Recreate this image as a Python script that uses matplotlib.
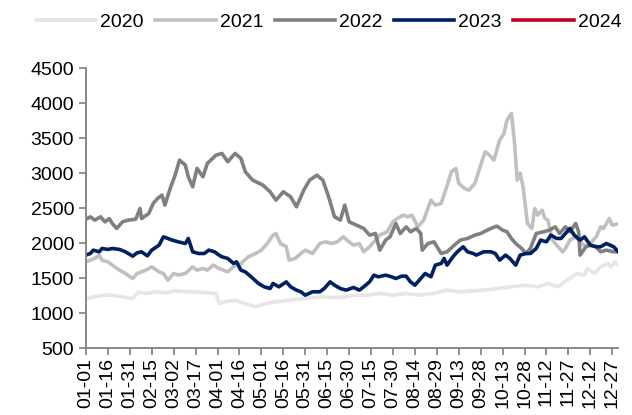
import matplotlib.pyplot as plt
import numpy as np

plt.rcParams["font.family"] = ["Liberation Sans", "DejaVu Sans"]

# day-of-year positions and values, one pair of lists per year
d2020 = [0, 5, 12, 18, 25, 32, 36, 41, 48, 55, 61, 68, 75, 82, 89, 91, 95, 102, 109, 116,
         123, 130, 139, 150, 160, 169, 178, 183, 192, 201, 210, 219, 228, 238, 247, 256, 265,
         272, 281, 291, 300, 309, 316, 323, 329, 336, 341, 343, 348, 352, 357, 359, 362, 365]
v2020 = [1200, 1233, 1257, 1257, 1233, 1210, 1305, 1281, 1305, 1290, 1319, 1305, 1305, 1290,
         1281, 1138, 1162, 1186, 1138, 1090, 1138, 1162, 1186, 1210, 1233, 1224, 1233, 1257,
         1257, 1281, 1257, 1281, 1257, 1281, 1329, 1305, 1319, 1329, 1352, 1376, 1400, 1376,
         1424, 1376, 1471, 1567, 1543, 1638, 1567, 1662, 1710, 1662, 1733, 1662]

d2021 = [0, 6, 9, 11, 15, 18, 23, 27, 32, 35, 41, 45, 50, 53, 56, 60, 63, 68, 73, 76, 80, 83,
         87, 91, 97, 102, 106, 111, 116, 120, 124, 128, 130, 133, 137, 139, 143, 147, 150, 155,
         160, 164, 168, 172, 176, 180, 183, 187, 190, 194, 198, 201, 206, 210, 213, 217, 220,
         223, 227, 231, 236, 239, 243, 246, 250, 253, 255, 259, 262, 266, 270, 273, 276, 279,
         283, 286, 288, 291, 293, 295, 297, 299, 302, 305, 307, 309, 312, 314, 316, 319, 323,
         326, 328, 331, 335, 338, 342, 345, 349, 352, 354, 358, 360, 365]
v2021 = [1733, 1781, 1829, 1757, 1733, 1686, 1614, 1567, 1495, 1567, 1614, 1662, 1590, 1567,
         1471, 1567, 1543, 1567, 1662, 1614, 1638, 1614, 1686, 1638, 1590, 1686, 1710, 1805,
         1852, 1900, 1995, 2114, 2138, 1995, 1948, 1757, 1781, 1852, 1900, 1852, 1995, 2019,
         1995, 2019, 2090, 2019, 1971, 1995, 1876, 1948, 2043, 2114, 2162, 2305, 2352, 2400,
         2376, 2400, 2233, 2329, 2614, 2543, 2567, 2757, 3019, 3067, 2852, 2781, 2757, 2852,
         3114, 3305, 3257, 3186, 3471, 3567, 3757, 3852, 3471, 2900, 3000, 2805, 2281, 2210,
         2495, 2400, 2471, 2352, 2329, 2043, 1948, 1876, 1924, 2043, 2090, 2019, 1948, 1995,
         2090, 2233, 2210, 2352, 2257, 2281]

d2022 = [0, 3, 6, 10, 13, 16, 18, 21, 25, 29, 34, 37, 38, 43, 46, 49, 52, 54, 58, 61, 64, 68,
         70, 73, 76, 80, 83, 89, 93, 97, 102, 106, 109, 114, 121, 126, 130, 135, 140, 144,
         149, 153, 158, 162, 166, 170, 174, 177, 180, 185, 190, 194, 198, 201, 205, 208, 212,
         215, 219, 222, 226, 229, 230, 234, 238, 243, 247, 252, 256, 261, 266, 270, 277, 281,
         285, 288, 291, 294, 298, 301, 304, 308, 313, 317, 321, 324, 328, 331, 335, 337, 338,
         342, 345, 349, 352, 356, 361, 364]
v2022 = [2340, 2376, 2329, 2376, 2304, 2350, 2281, 2210, 2304, 2329, 2340, 2495, 2350, 2424,
         2567, 2638, 2686, 2543, 2805, 2971, 3186, 3114, 2947, 2805, 3067, 2947, 3138, 3257,
         3281, 3162, 3281, 3210, 3019, 2900, 2829, 2733, 2614, 2733, 2662, 2519, 2757, 2900,
         2971, 2900, 2662, 2376, 2329, 2543, 2305, 2257, 2210, 2114, 2138, 1900, 2043, 2090,
         2281, 2138, 2233, 2162, 2210, 2138, 1900, 1995, 2019, 1852, 1876, 1971, 2043, 2067,
         2114, 2138, 2210, 2243, 2186, 2162, 2067, 1995, 1924, 1852, 1924, 2138, 2162, 2186,
         2233, 2138, 2233, 2162, 2281, 2162, 1829, 1948, 1971, 1948, 1876, 1900, 1876, 1880]

d2023 = [0, 3, 5, 9, 11, 15, 18, 23, 27, 32, 35, 38, 42, 45, 50, 53, 56, 59, 63, 68, 70, 73,
         77, 81, 84, 88, 91, 93, 97, 101, 103, 106, 109, 113, 118, 122, 126, 128, 132, 137,
         140, 144, 147, 150, 155, 160, 163, 167, 170, 174, 178, 183, 187, 190, 194, 197, 200,
         205, 209, 212, 216, 219, 222, 225, 228, 232, 236, 239, 243, 245, 247, 251, 254, 258,
         261, 265, 267, 272, 277, 280, 283, 287, 290, 294, 297, 301, 304, 308, 311, 315, 318,
         322, 325, 331, 334, 338, 341, 345, 349, 352, 356, 361, 364]
v2023 = [1830, 1852, 1900, 1876, 1924, 1910, 1924, 1910, 1876, 1814, 1862, 1876, 1819, 1900,
         1971, 2090, 2067, 2043, 2019, 1995, 2067, 1876, 1852, 1852, 1900, 1876, 1829, 1805,
         1781, 1710, 1733, 1614, 1590, 1519, 1424, 1376, 1352, 1424, 1376, 1447, 1376, 1329,
         1305, 1257, 1305, 1305, 1352, 1447, 1400, 1352, 1329, 1367, 1329, 1376, 1447, 1543,
         1519, 1543, 1519, 1495, 1529, 1529, 1447, 1400, 1471, 1567, 1519, 1686, 1710, 1781,
         1686, 1805, 1876, 1948, 1876, 1852, 1829, 1876, 1876, 1852, 1757, 1829, 1781, 1686,
         1829, 1852, 1852, 1924, 2043, 2019, 2114, 2067, 2067, 2210, 2114, 2043, 2090, 1971,
         1948, 1948, 1995, 1948, 1880]

d2024 = []
v2024 = []

years = ["2020", "2021", "2022", "2023", "2024"]
colors = ["#e6e6e6", "#c0c0c0", "#808080", "#002060", "#c00020"]
series = [(d2020, v2020), (d2021, v2021), (d2022, v2022), (d2023, v2023), (d2024, v2024)]

tick_days = np.arange(0, 361, 15)
tick_labels = ["01-01", "01-16", "01-31", "02-15", "03-02", "03-17", "04-01", "04-16",
               "05-01", "05-16", "05-31", "06-15", "06-30", "07-15", "07-30", "08-14",
               "08-29", "09-13", "09-28", "10-13", "10-28", "11-12", "11-27", "12-12", "12-27"]

fig = plt.figure(figsize=(6.32, 4.15), dpi=100)
ax = fig.add_axes([0.136, 0.161, 0.842, 0.675])

for (d, v), year, c in zip(series, years, colors):
    ax.plot(d, v, color=c, lw=2.6, label=year, solid_joinstyle="round")

ax.set_xlim(0, 364)
ax.set_ylim(500, 4500)
ax.set_yticks(np.arange(500, 4501, 500))
ax.set_xticks(tick_days)
ax.set_xticklabels(tick_labels, rotation=90)

for side in ("top", "right"):
    ax.spines[side].set_visible(False)
for side in ("left", "bottom"):
    ax.spines[side].set_color("#808080")
    ax.spines[side].set_linewidth(1.3)
ax.tick_params(axis="both", colors="#808080", labelcolor="black", labelsize=14,
               length=5, width=1.2, direction="out")
ax.tick_params(axis="x", pad=2)

fig.legend(loc="upper center", bbox_to_anchor=(0.52, 1.01), ncol=5, frameon=False,
           fontsize=14, handlelength=3.1, handletextpad=0.2, columnspacing=0.6)

fig.savefig("out.png", dpi=100)
